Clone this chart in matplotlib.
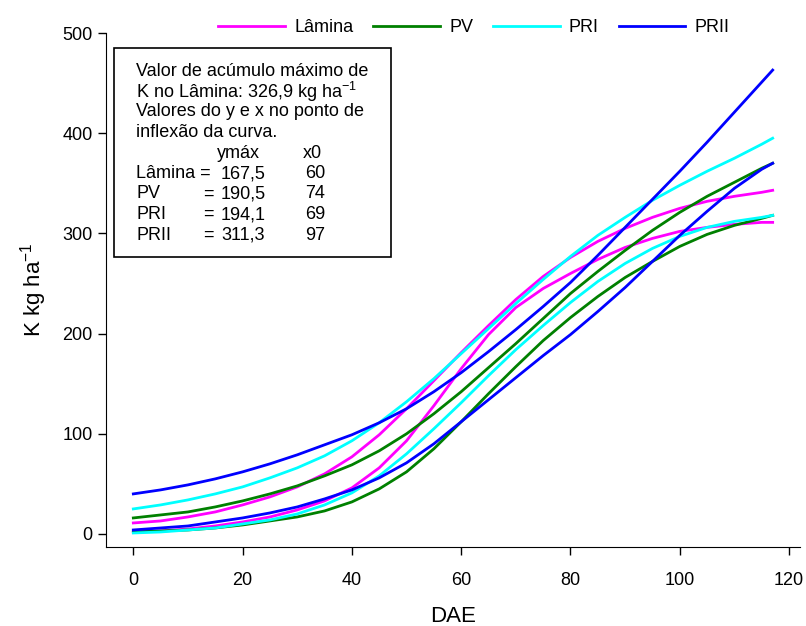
import matplotlib
matplotlib.use("Agg")
import matplotlib.pyplot as plt
from matplotlib.patches import Rectangle

plt.rcParams['font.family'] = ['Liberation Sans', 'DejaVu Sans']
plt.rcParams['mathtext.default'] = 'regular'

# DAE (dias apos emergencia)
dae = [0, 5, 10, 15, 20, 25, 30, 35, 40, 45, 50, 55, 60,
       65, 70, 75, 80, 85, 90, 95, 100, 105, 110, 115, 117]

# curvas (K kg ha-1)
lamina_1 = [11, 13, 17, 22, 29, 37, 47, 60, 77, 99, 125, 153, 181,
            208, 234, 257, 276, 292, 305, 316, 325, 332, 337, 341, 343]
lamina_2 = [2, 3, 5, 8, 12, 17, 24, 33, 46, 66, 93, 128, 165,
            199, 226, 245, 260, 274, 286, 295, 302, 306, 309, 311, 311]
pv_1 = [16, 19, 22, 27, 33, 40, 48, 58, 69, 83, 100, 120, 142,
        166, 190, 215, 240, 262, 283, 303, 321, 337, 351, 365, 370]
pv_2 = [2, 3, 4, 6, 9, 13, 17, 23, 32, 45, 62, 85, 112,
        140, 167, 193, 216, 237, 256, 272, 287, 299, 308, 315, 318]
pri_1 = [25, 29, 34, 40, 47, 56, 66, 78, 93, 111, 132, 155, 180,
         205, 230, 254, 277, 298, 316, 333, 348, 362, 375, 389, 395]
pri_2 = [1, 2, 4, 6, 10, 14, 20, 29, 41, 58, 80, 105, 131,
         158, 184, 208, 231, 252, 270, 285, 297, 306, 312, 316, 318]
prii_1 = [40, 44, 49, 55, 62, 70, 79, 89, 99, 111, 125, 142, 161,
          182, 204, 227, 251, 278, 306, 334, 362, 391, 421, 451, 463]
prii_2 = [4, 6, 8, 12, 16, 21, 27, 35, 44, 56, 71, 90, 112,
          134, 156, 178, 199, 222, 246, 272, 298, 322, 345, 364, 370]

tabela = [("Lâmina =", "167,5", "60"),
          ("PV", "190,5", "74"),
          ("PRI", "194,1", "69"),
          ("PRII", "311,3", "97")]

W, H = 806, 626
fig = plt.figure(figsize=(W / 100, H / 100), dpi=100)
ax = fig.add_axes([106 / W, 1 - 547 / H, (800 - 106) / W, (547 - 33) / H])

cores = {'Lâmina': '#ff00ff', 'PV': '#008000', 'PRI': '#00ffff', 'PRII': '#0000ff'}
kw = dict(lw=2.0, solid_joinstyle='round')
ax.plot(dae, lamina_1, color=cores['Lâmina'], label='Lâmina', **kw)
ax.plot(dae, lamina_2, color=cores['Lâmina'], **kw)
ax.plot(dae, pv_1, color=cores['PV'], label='PV', **kw)
ax.plot(dae, pv_2, color=cores['PV'], **kw)
ax.plot(dae, pri_1, color=cores['PRI'], label='PRI', **kw)
ax.plot(dae, pri_2, color=cores['PRI'], **kw)
ax.plot(dae, prii_1, color=cores['PRII'], label='PRII', **kw)
ax.plot(dae, prii_2, color=cores['PRII'], **kw)

ax.set_xlim(-5, 122)
ax.set_ylim(-13, 500)
ax.set_xticks(range(0, 121, 20))
ax.set_yticks(range(0, 501, 100))
ax.spines['top'].set_visible(False)
ax.spines['right'].set_visible(False)
ax.tick_params(direction='out', length=6, width=1, labelsize=13)
ax.tick_params(axis='x', pad=12)
ax.set_xlabel('DAE', fontsize=16, labelpad=12)
ax.set_ylabel('K kg ha$^{-1}$', fontsize=16, labelpad=10)

fig.legend(loc='center', bbox_to_anchor=(474 / W, 1 - 28 / H), ncol=4,
           frameon=False, fontsize=13, handlelength=3.7, handletextpad=0.5,
           columnspacing=1.1)

# caixa de texto
fig.patches.append(Rectangle((114 / W, 1 - 257 / H), (391 - 114) / W, (257 - 48) / H,
                             transform=fig.transFigure, fill=False,
                             edgecolor='black', lw=1.2))
linhas = ["Valor de acúmulo máximo de",
          "K no Lâmina: 326,9 kg ha$^{-1}$",
          "Valores do y e x no ponto de",
          "inflexão da curva."]
y0 = 71
for i, t in enumerate(linhas):
    fig.text(136 / W, 1 - (y0 + i * 20.5) / H, t, fontsize=13, va='center')
fig.text(217 / W, 1 - (y0 + 4 * 20.5) / H, "ymáx", fontsize=13, va='center')
fig.text(303 / W, 1 - (y0 + 4 * 20.5) / H, "x0", fontsize=13, va='center')
for j, (nome, ymax, x0) in enumerate(tabela):
    yy = 1 - (y0 + (5 + j) * 20.5) / H
    fig.text(136 / W, yy, nome, fontsize=13, va='center')
    if not nome.endswith('='):
        fig.text(203 / W, yy, "=", fontsize=13, va='center')
    fig.text(221 / W, yy, ymax, fontsize=13, va='center')
    fig.text(305 / W, yy, x0, fontsize=13, va='center')

fig.savefig('out.png', dpi=100)
